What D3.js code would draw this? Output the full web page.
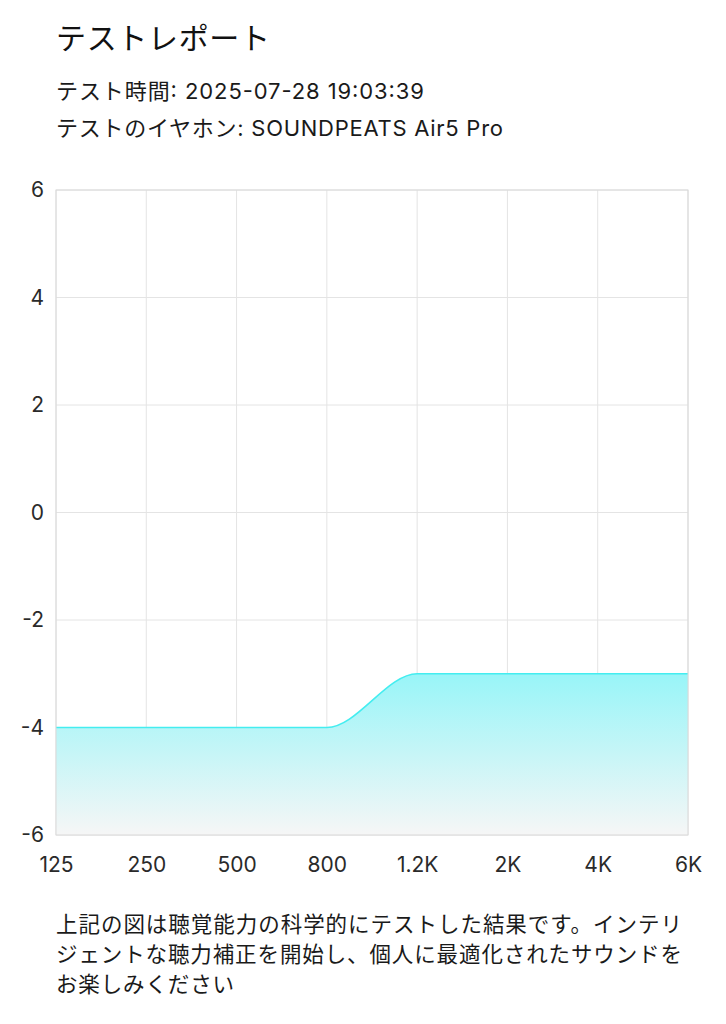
<!DOCTYPE html>
<html><head><meta charset="utf-8">
<script src="https://cdn.jsdelivr.net/npm/d3@7"></script>
<style>
html,body{margin:0;padding:0;background:#fff;}
svg{display:block;font-family:"Inter","Noto Sans CJK JP",sans-serif;}
</style></head>
<body>
<svg id="c" width="726" height="1024"></svg>
<script>
const title = "テストレポート";
const infoLines = ["テスト時間: 2025-07-28 19:03:39", "テストのイヤホン: SOUNDPEATS Air5 Pro"];
const categories = ["125","250","500","800","1.2K","2K","4K","6K"];
const values = [-4,-4,-4,-4,-3,-3,-3,-3];
const yTicks = [-6,-4,-2,0,2,4,6];
const noteLines = ["上記の図は聴覚能力の科学的にテストした結果です。インテリ","ジェントな聴力補正を開始し、個人に最適化されたサウンドを","お楽しみください"];
const infoWidths = [368, 447];
const noteWidths = [626, 626, 178];

const svg = d3.select("#c");
const L=56, R=688, T=190, B=835;
const x = d3.scalePoint().domain(categories).range([L,R]);
const y = d3.scaleLinear().domain([-6,6]).range([B,T]);

svg.append("text").attr("x",56).attr("y",49).attr("font-size",30).attr("fill","#111")
  .attr("textLength",214).attr("lengthAdjust","spacing").text(title);
svg.selectAll(".info").data(infoLines).join("text").attr("x",56).attr("y",(d,i)=>99+i*37)
  .attr("font-size",22).attr("fill","#1a1a1a")
  .attr("textLength",(d,i)=>infoWidths[i]).attr("lengthAdjust","spacing").text(d=>d);

// grid
const g = svg.append("g");
g.selectAll(".hg").data(yTicks).join("line").attr("x1",L).attr("x2",R).attr("y1",d=>y(d)).attr("y2",d=>y(d))
  .attr("stroke","#e4e4e4").attr("stroke-width",1);
g.selectAll(".vg").data(categories).join("line").attr("x1",d=>x(d)).attr("x2",d=>x(d)).attr("y1",T).attr("y2",B)
  .attr("stroke","#e4e4e4").attr("stroke-width",1);

// gradient
const defs = svg.append("defs");
const grad = defs.append("linearGradient").attr("id","fillg").attr("gradientUnits","userSpaceOnUse")
  .attr("x1",0).attr("x2",0).attr("y1",y(-3)).attr("y2",y(-6));
grad.append("stop").attr("offset","0%").attr("stop-color","#98f5f8");
grad.append("stop").attr("offset","100%").attr("stop-color","#f6f6f6");

const data = categories.map((c,i)=>({c,v:values[i]}));
const area = d3.area().x(d=>x(d.c)).y0(y(-6)).y1(d=>y(d.v)).curve(d3.curveMonotoneX);
const line = d3.line().x(d=>x(d.c)).y(d=>y(d.v)).curve(d3.curveMonotoneX);
svg.append("path").datum(data).attr("d",area).attr("fill","url(#fillg)");
svg.append("path").datum(data).attr("d",line).attr("fill","none").attr("stroke","#44edf0").attr("stroke-width",1.6);

// frame
svg.append("rect").attr("x",L).attr("y",T).attr("width",R-L).attr("height",B-T)
  .attr("fill","none").attr("stroke","#d9d9d9").attr("stroke-width",1);

// axes
const yAxis = d3.axisLeft(y).tickValues(yTicks).tickSize(0).tickPadding(12).tickFormat(d=>d);
const ya = svg.append("g").attr("transform",`translate(${L},0)`).call(yAxis);
ya.select(".domain").remove();
ya.selectAll("text").attr("font-size",21).attr("fill","#2a2a2a").attr("font-family","Inter, sans-serif");

const xAxis = d3.axisBottom(x).tickSize(0).tickPadding(22);
const xa = svg.append("g").attr("transform",`translate(0,${B})`).call(xAxis);
xa.select(".domain").remove();
xa.selectAll("text").attr("font-size",21).attr("fill","#2a2a2a").attr("font-family","Inter, sans-serif");

svg.selectAll(".note").data(noteLines).join("text").attr("x",56).attr("y",(d,i)=>932+i*30)
  .attr("font-size",21.5).attr("fill","#1a1a1a")
  .attr("textLength",(d,i)=>noteWidths[i]).attr("lengthAdjust","spacing").text(d=>d);
</script>
</body></html>
